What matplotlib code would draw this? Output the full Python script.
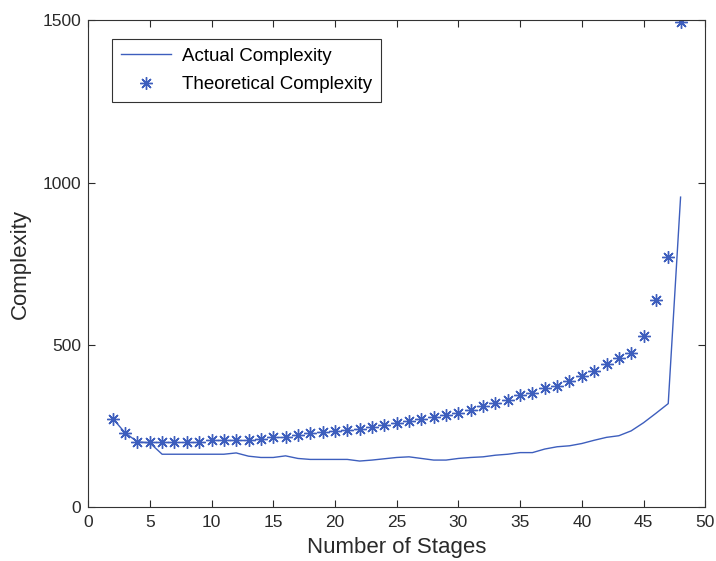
import matplotlib.pyplot as plt
import numpy as np

# number of stages
stages = np.arange(2, 49)

# actual complexity (line)
actual = [273, 229, 201, 198, 163, 163, 163, 163, 163, 163, 167, 157, 153, 153,
          158, 150, 147, 147, 147, 147, 142, 145, 149, 153, 155, 150, 145, 145,
          150, 153, 155, 160, 163, 168, 168, 179, 186, 189, 196, 206, 215, 220,
          235, 260, 289, 319, 955]

# theoretical complexity (stars)
theoretical = [273, 229, 201, 201, 201, 201, 201, 201, 206, 206, 206, 206, 209,
               216, 216, 222, 227, 231, 234, 239, 242, 247, 252, 260, 266, 270,
               278, 283, 290, 299, 311, 321, 330, 344, 352, 368, 374, 388, 404,
               420, 440, 458, 475, 527, 637, 771, 1494]

blue = '#3d5ebd'
txt = '#2a2a2a'
plt.rcParams['font.family'] = ['Liberation Sans', 'DejaVu Sans']

fig = plt.figure(figsize=(7.16, 5.61), dpi=100)
ax = fig.add_axes([0.123, 0.096, 0.862, 0.868])

ax.plot(stages, actual, color=blue, linewidth=1.0, label='Actual Complexity')
ax.plot(stages, theoretical, marker=(8, 2, 0), color=blue, markersize=9,
        markeredgewidth=1.0, linestyle='none', label='Theoretical Complexity')

ax.set_xlim(0, 50)
ax.set_ylim(0, 1500)
ax.set_xticks(np.arange(0, 51, 5))
ax.set_yticks([0, 500, 1000, 1500])
ax.tick_params(direction='in', top=True, right=True, labelsize=12.5,
               colors=txt, length=5)
ax.tick_params(axis='x', pad=6)
ax.tick_params(axis='y', pad=5)
for s in ax.spines.values():
    s.set_color('#333333')
ax.set_xlabel('Number of Stages', fontsize=16, color=txt, labelpad=5)
ax.set_ylabel('Complexity', fontsize=16, color=txt, labelpad=8)

leg = ax.legend(loc='upper left', bbox_to_anchor=(0.039, 0.961), fontsize=13.5,
                frameon=True, fancybox=False, edgecolor='black', borderpad=0.45,
                handlelength=2.7, handletextpad=0.6, labelspacing=0.6,
                borderaxespad=0)
leg.get_frame().set_linewidth(0.8)

fig.savefig('out.png', dpi=100)
